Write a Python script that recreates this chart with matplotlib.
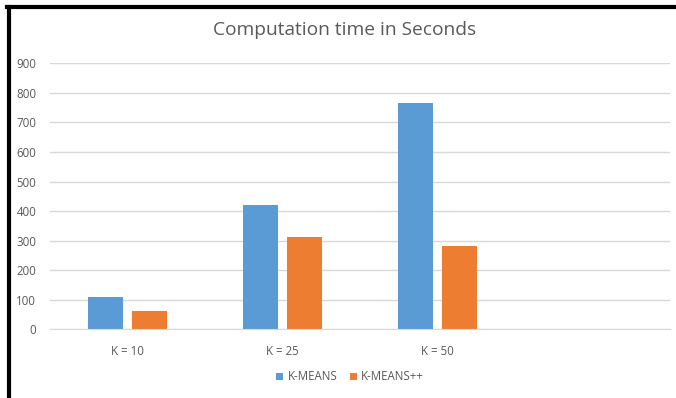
import matplotlib
matplotlib.use("Agg")
import matplotlib.pyplot as plt
from matplotlib.lines import Line2D
import numpy as np

# data
categories = ["K = 10", "K = 25", "K = 50", ""]
kmeans = [108, 422, 765, 0]
kmeans_pp = [63, 313, 281, 0]

blue = "#5B9BD5"
orange = "#ED7D31"
text_gray = "#595959"
grid_gray = "#D9D9D9"

plt.rcParams["font.family"] = ["Open Sans", "DejaVu Sans"]

fig = plt.figure(figsize=(6.76, 3.98), dpi=100)
ax = fig.add_axes([50 / 676, 68.7 / 398, 620 / 676, 266 / 398])

x = np.arange(len(categories))
w = 0.226
off = 0.142
ax.bar(x - off, kmeans, w, color=blue, label="K-MEANS")
ax.bar(x + off, kmeans_pp, w, color=orange, label="K-MEANS++")

ax.set_xlim(-0.5, len(categories) - 0.5)
ax.set_ylim(0, 900)
ax.set_yticks(range(0, 901, 100))
ax.set_xticks(x)
ax.set_xticklabels(categories)
ax.tick_params(axis="both", length=0, labelsize=8.3, labelcolor=text_gray)
ax.tick_params(axis="y", pad=10)
ax.tick_params(axis="x", pad=11)
ax.grid(axis="y", color=grid_gray, linewidth=1)
ax.set_axisbelow(True)
for s in ["top", "right", "left"]:
    ax.spines[s].set_visible(False)
ax.spines["bottom"].set_color(grid_gray)

fig.text(345 / 676, 1 - 30 / 398, "Computation time in Seconds",
         ha="center", va="center", fontsize=13.8, color=text_gray)

fig.legend(loc="center", bbox_to_anchor=(350 / 676, 1 - 377 / 398), ncol=2,
           frameon=False, fontsize=8.3, labelcolor=text_gray,
           handlelength=0.6, handleheight=0.6, handletextpad=0.4, columnspacing=1.1)

# dark frame on the top and left edge
fig.add_artist(Line2D([9 / 676, 9 / 676], [0, 1 - 7 / 398], transform=fig.transFigure,
                      color="black", linewidth=3))
fig.add_artist(Line2D([7 / 676, 1], [1 - 7 / 398, 1 - 7 / 398], transform=fig.transFigure,
                      color="black", linewidth=3))

fig.savefig("out.png", dpi=100)
